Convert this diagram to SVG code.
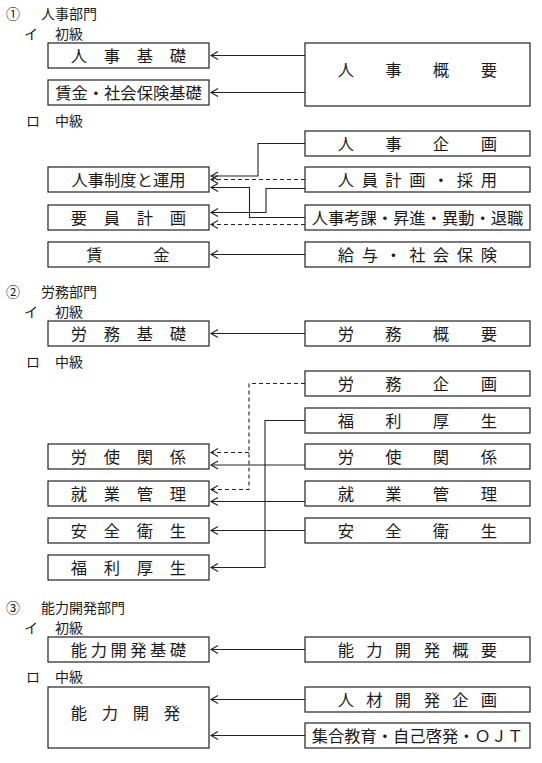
<svg xmlns="http://www.w3.org/2000/svg" width="542" height="763" viewBox="0 0 542 763">
<style>
.bg{fill:#ffffff}
.box{fill:#ffffff;stroke:#222;stroke-width:1.2}
.t{font-family:"Noto Sans CJK JP","Noto Sans CJK SC",sans-serif;font-size:16.3px;fill:#1a1a1a}
.c{text-anchor:middle}
.h{font-family:"Noto Sans CJK JP","Noto Sans CJK SC",sans-serif;font-size:14px;fill:#1a1a1a}
.ln{fill:none;stroke:#222;stroke-width:1.1;marker-end:url(#arr)}
.dl{fill:none;stroke:#222;stroke-width:1.1;stroke-dasharray:4 3;marker-end:url(#arr)}
</style>
<defs>
<marker id="arr" markerUnits="userSpaceOnUse" orient="auto" refX="0" refY="0" markerWidth="10" markerHeight="10" overflow="visible">
<path d="M-7,-4 L0,0 L-7,4" fill="none" stroke="#222" stroke-width="1.1"/>
</marker>
</defs>
<rect class="bg" x="0" y="0" width="542" height="763"/>

<g id="headers">
<text class="h" x="6" y="19">①</text><text class="h" x="41" y="19">人事部門</text>
<text class="h" x="24" y="39.3">イ</text><text class="h" x="55" y="39.3">初級</text>
<text class="h" x="26" y="125.5">ロ</text><text class="h" x="55" y="125.5">中級</text>
<text class="h" x="6" y="297">②</text><text class="h" x="41" y="297">労務部門</text>
<text class="h" x="24" y="317.3">イ</text><text class="h" x="55" y="317.3">初級</text>
<text class="h" x="26" y="367">ロ</text><text class="h" x="55" y="367">中級</text>
<text class="h" x="6" y="613">③</text><text class="h" x="41" y="613">能力開発部門</text>
<text class="h" x="24" y="633.3">イ</text><text class="h" x="55" y="633.3">初級</text>
<text class="h" x="26" y="682">ロ</text><text class="h" x="55" y="682">中級</text>
</g>

<g id="connectors">
<path class="ln" d="M305,55.5 H211"/>
<path class="ln" d="M305,92.5 H211"/>
<path class="ln" d="M305,143.5 H258 V176 H211"/>
<path class="dl" d="M305,179.5 H211"/>
<path class="ln" d="M305,188.5 H266 V212.5 H211"/>
<path class="ln" d="M305,217.5 H249.5 V187.5 H211"/>
<path class="dl" d="M305,224.5 H211"/>
<path class="ln" d="M305,254.5 H211"/>

<path class="ln" d="M305,333.5 H211"/>
<path class="dl" d="M305,383.5 H249 V489.5 H211"/>
<path class="dl" d="M249,452.5 H211"/>
<path class="ln" d="M305,420.5 H265 V567.5 H211"/>
<path class="ln" d="M305,465 H211"/>
<path class="ln" d="M305,501.5 H211"/>
<path class="ln" d="M305,530.5 H211"/>

<path class="ln" d="M305,649.5 H211"/>
<path class="ln" d="M305,699.5 H211"/>
<path class="ln" d="M305,735.5 H211"/>
</g>

<g id="n-jinji-kiso"><rect class="box" x="48" y="43" width="161" height="25"/><text class="t c" x="79 112 145 178" y="61.5">人事基礎</text></g>
<g id="n-chingin-kiso"><rect class="box" x="48" y="80" width="161" height="25"/><text class="t c" x="128.5" y="98.5">賃金・社会保険基礎</text></g>
<g id="n-jinji-gaiyo"><rect class="box" x="305" y="43" width="225" height="63"/><text class="t c" x="346 393.5 441 489" y="75.5">人事概要</text></g>
<g id="n-jinji-kikaku"><rect class="box" x="305" y="131" width="225" height="25"/><text class="t c" x="346 393.5 441 489" y="149.5">人事企画</text></g>
<g id="n-jinji-seido"><rect class="box" x="48" y="167" width="161" height="25"/><text class="t c" x="128.5" y="185.5">人事制度と運用</text></g>
<g id="n-jinin-keikaku"><rect class="box" x="305" y="167" width="225" height="25"/><text class="t c" x="346 370 393.5 417.5 441 465 489" y="185.5">人員計画・採用</text></g>
<g id="n-yoin-keikaku"><rect class="box" x="48" y="205" width="161" height="25"/><text class="t c" x="79 112 145 178" y="223.5">要員計画</text></g>
<g id="n-jinji-koka"><rect class="box" x="305" y="205" width="225" height="25"/><text class="t c" x="417.5" y="223.5">人事考課・昇進・異動・退職</text></g>
<g id="n-chingin"><rect class="box" x="48" y="242" width="161" height="25"/><text class="t c" x="94.5 161.5" y="260.5">賃金</text></g>
<g id="n-kyuyo"><rect class="box" x="305" y="242" width="225" height="25"/><text class="t c" x="346 370 393.5 417.5 441 465 489" y="260.5">給与・社会保険</text></g>

<g id="n-romu-kiso"><rect class="box" x="48" y="321" width="161" height="25"/><text class="t c" x="79 112 145 178" y="339.5">労務基礎</text></g>
<g id="n-romu-gaiyo"><rect class="box" x="305" y="321" width="225" height="25"/><text class="t c" x="346 393.5 441 489" y="339.5">労務概要</text></g>
<g id="n-romu-kikaku"><rect class="box" x="305" y="371" width="225" height="25"/><text class="t c" x="346 393.5 441 489" y="389.5">労務企画</text></g>
<g id="n-fukuri-r"><rect class="box" x="305" y="408" width="225" height="25"/><text class="t c" x="346 393.5 441 489" y="426.5">福利厚生</text></g>
<g id="n-roshi-l"><rect class="box" x="48" y="444" width="161" height="25"/><text class="t c" x="79 112 145 178" y="462.5">労使関係</text></g>
<g id="n-roshi-r"><rect class="box" x="305" y="444" width="225" height="25"/><text class="t c" x="346 393.5 441 489" y="462.5">労使関係</text></g>
<g id="n-shugyo-l"><rect class="box" x="48" y="481" width="161" height="25"/><text class="t c" x="79 112 145 178" y="499.5">就業管理</text></g>
<g id="n-shugyo-r"><rect class="box" x="305" y="481" width="225" height="25"/><text class="t c" x="346 393.5 441 489" y="499.5">就業管理</text></g>
<g id="n-anzen-l"><rect class="box" x="48" y="518" width="161" height="25"/><text class="t c" x="79 112 145 178" y="536.5">安全衛生</text></g>
<g id="n-anzen-r"><rect class="box" x="305" y="518" width="225" height="25"/><text class="t c" x="346 393.5 441 489" y="536.5">安全衛生</text></g>
<g id="n-fukuri-l"><rect class="box" x="48" y="555" width="161" height="25"/><text class="t c" x="79 112 145 178" y="573.5">福利厚生</text></g>

<g id="n-noryoku-kiso"><rect class="box" x="48" y="637" width="161" height="25"/><text class="t c" x="79 98.8 118.6 138.4 158.2 178" y="655.5">能力開発基礎</text></g>
<g id="n-noryoku-gaiyo"><rect class="box" x="305" y="637" width="225" height="25"/><text class="t c" x="346 374.5 403 432 460.5 489" y="655.5">能力開発概要</text></g>
<g id="n-noryoku"><rect class="box" x="48" y="687" width="161" height="61"/><text class="t c" x="79 110 141 172" y="718.5">能力開発</text></g>
<g id="n-jinzai"><rect class="box" x="305" y="687" width="225" height="25"/><text class="t c" x="346 374.5 403 432 460.5 489" y="705.5">人材開発企画</text></g>
<g id="n-shugo"><rect class="box" x="305" y="723" width="225" height="25"/><text class="t c" x="417.5" y="741.5">集合教育・自己啓発・ＯＪＴ</text></g>
</svg>
